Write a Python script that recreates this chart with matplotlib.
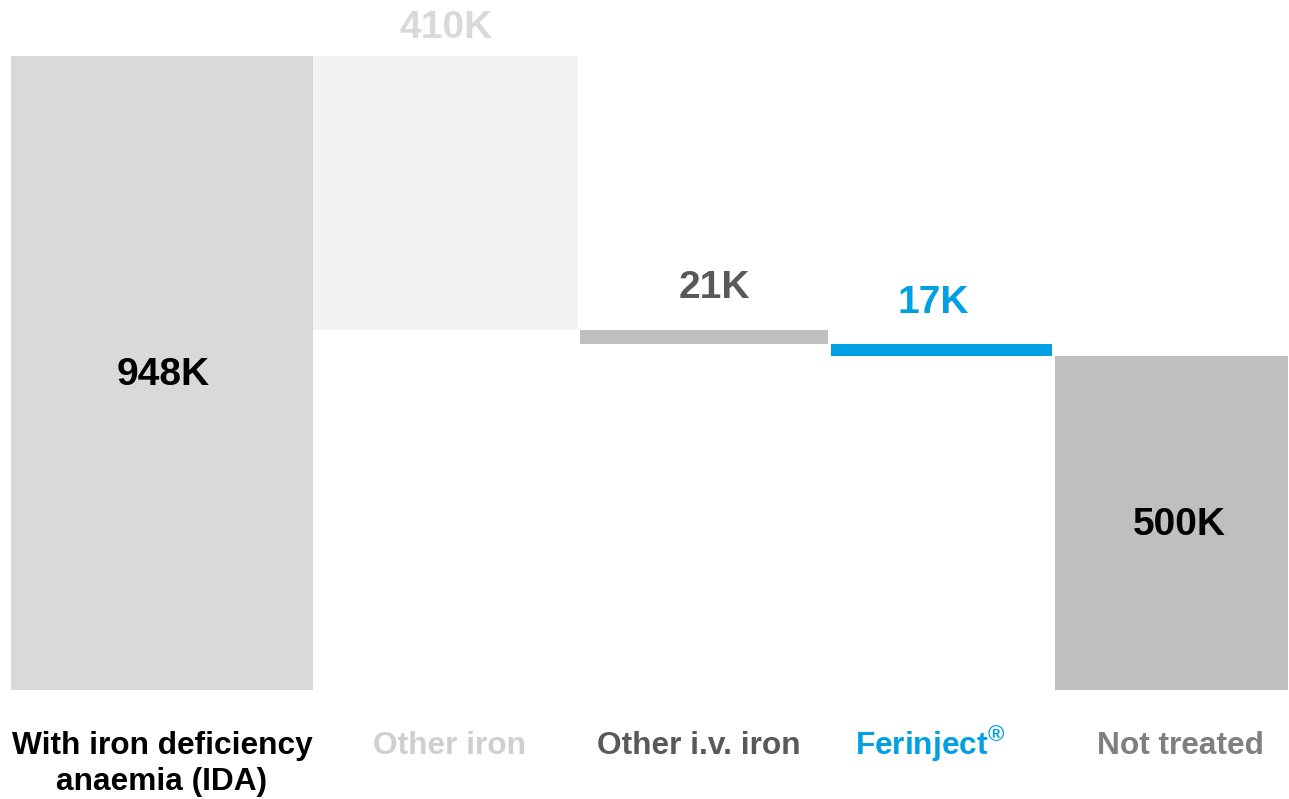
import matplotlib
matplotlib.use("Agg")
import matplotlib.pyplot as plt
import numpy as np

# data
categories = ["With iron deficiency\nanaemia (IDA)", "Other iron", "Other i.v. iron",
              r"Ferinject$^{\circledR}$", "Not treated"]
values = [948, 410, 21, 17, 500]
value_labels = ["948K", "410K", "21K", "17K", "500K"]
is_total = [True, False, False, False, True]

# layout / style (pixel units on x)
lefts = [11, 313, 580, 831, 1055]
widths = [302, 265, 248, 221, 233]
bar_colors = ["#d9d9d9", "#f2f2f2", "#bfbfbf", "#00a0e3", "#bfbfbf"]
value_colors = ["#000000", "#d9d9d9", "#595959", "#00a0e3", "#000000"]
cat_colors = ["#000000", "#cfcfcf", "#595959", "#00a0e3", "#7f7f7f"]
label_dy = [0, 10, 24, 23, 0]
label_dx = [1, 0, 10, -8, 8]
cat_dx = [0, 4, -5, -11, 9]
cat_dy = [0, 0, 0, 6, 0]

plt.rcParams["font.family"] = ["Liberation Sans", "DejaVu Sans"]
plt.rcParams["mathtext.fontset"] = "custom"
plt.rcParams["mathtext.rm"] = "Liberation Sans:bold"
plt.rcParams["mathtext.bf"] = "Liberation Sans:bold"

fig = plt.figure(figsize=(12.89, 7.99), dpi=100)
ax = fig.add_axes([0, 109 / 799, 1, 634 / 799])

# waterfall bottoms
bottoms = []
running = values[0]
for v, tot in zip(values, is_total):
    if tot:
        bottoms.append(0)
    else:
        running -= v
        bottoms.append(running)

ax.bar(lefts, values, width=widths, bottom=bottoms, align="edge",
       color=bar_colors, linewidth=0)

px = 0.72  # points per pixel at dpi 100
for i in range(len(values)):
    xc = lefts[i] + widths[i] / 2
    if is_total[i]:
        ax.annotate(value_labels[i], (xc, bottoms[i] + values[i] / 2), xytext=(label_dx[i] * px, -2 * px),
                    textcoords="offset points", ha="center", va="center",
                    fontsize=28, fontweight="bold", color=value_colors[i])
    else:
        ax.annotate(value_labels[i], (xc, bottoms[i] + values[i]), xytext=(label_dx[i] * px, label_dy[i] * px),
                    textcoords="offset points", ha="center", va="bottom",
                    fontsize=28, fontweight="bold", color=value_colors[i])
    ax.annotate(categories[i], (xc, 0), xycoords=("data", "axes fraction"),
                xytext=(cat_dx[i] * px, (-41 + cat_dy[i]) * px), textcoords="offset points",
                ha="center", va="top", fontsize=22.8, fontweight="bold",
                color=cat_colors[i], linespacing=1.25)

ax.set_xlim(0, 1289)
ax.set_ylim(0, 948)
ax.axis("off")

fig.savefig("out.png", dpi=100)
